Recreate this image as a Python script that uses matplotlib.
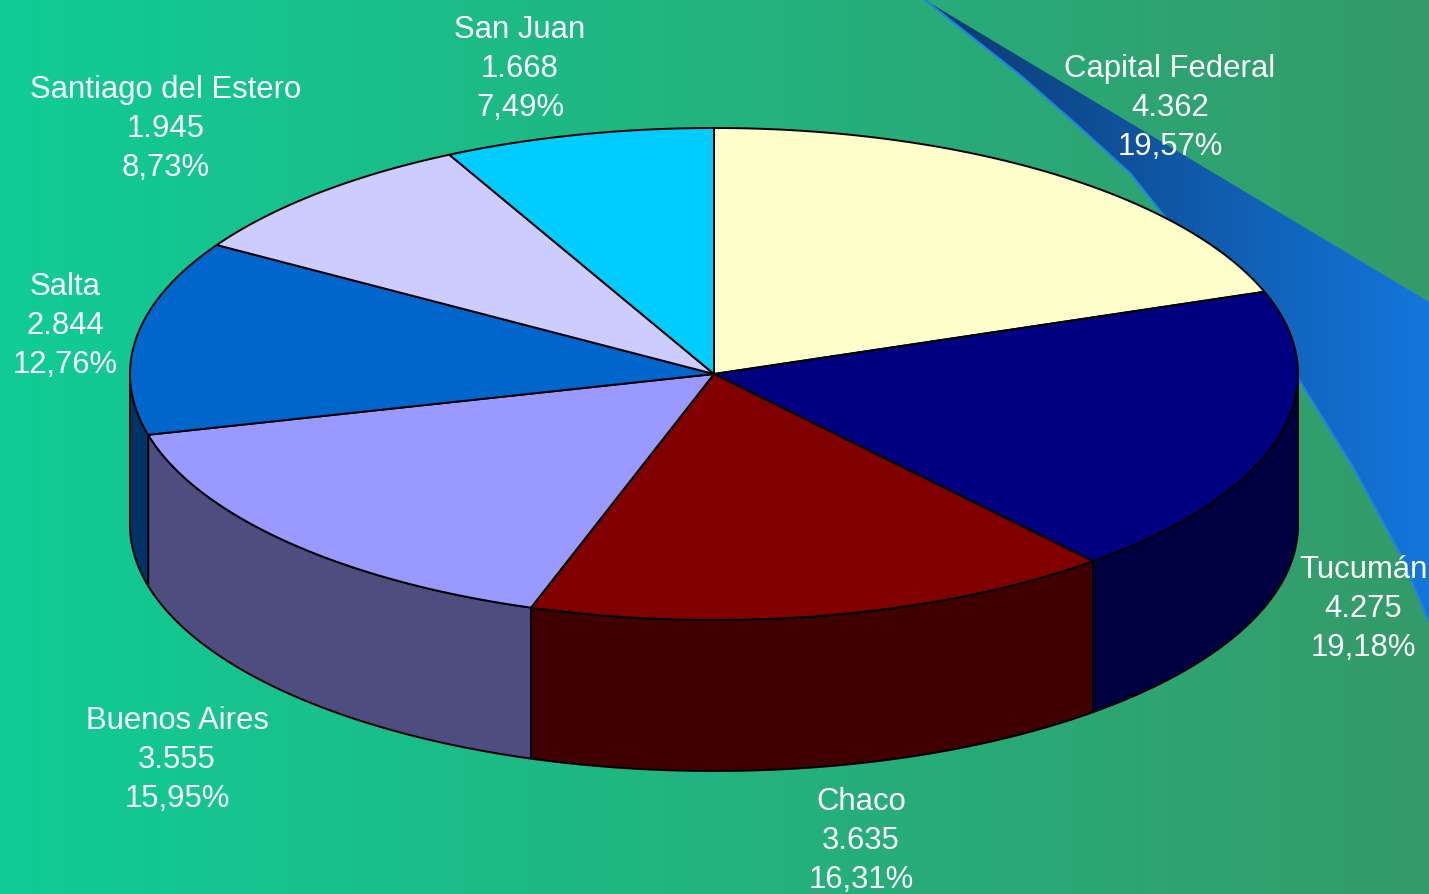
#!/usr/bin/env python

import numpy as np
import matplotlib as mpl
mpl.use('Agg')
import matplotlib.pyplot as plt
from matplotlib.patches import Polygon, PathPatch
from matplotlib.path import Path

names = ['Capital Federal', 'Tucumán', 'Chaco', 'Buenos Aires', 'Salta',
         'Santiago del Estero', 'San Juan']
values = [4362, 4275, 3635, 3555, 2844, 1945, 1668]
value_labels = ['4.362', '4.275', '3.635', '3.555', '2.844', '1.945', '1.668']
pct_labels = ['19,57%', '19,18%', '16,31%', '15,95%', '12,76%', '8,73%', '7,49%']
top_colors = ['#FFFFCC', '#000080', '#800000', '#9999FF', '#0066CC', '#CCCCFF', '#00CCFF']
side_colors = ['#808066', '#000040', '#400000', '#4D4D80', '#003366', '#666680', '#006680']
label_pos = [(1170, 108), (1363, 609), (861, 841), (177, 760), (65, 326), (166, 129), (520, 69)]

# pie geometry in pixels
cx, cy = 714, 374
rx, ry = 584, 246
depth = 151

# swoosh outline, pixels
swoosh_top = [(925, 0), (1429, 302)]
swoosh_low = [(1429, 622), (1400, 553), (1353, 467), (1298, 378), (1173, 227),
              (1130, 173), (1075, 123), (1020, 75), (925, 0)]

plt.rcParams['font.family'] = ['Liberation Sans', 'DejaVu Sans']

fig = plt.figure(figsize=(14.29, 8.94), dpi=100)
ax = fig.add_axes([0, 0, 1, 1])
ax.set_xlim(0, 1429)
ax.set_ylim(894, 0)
ax.axis('off')


def hgrad(c0, c1, extent):
    # horizontal gradient image between two rgb colours
    t = np.linspace(0, 1, 256)[:, None]
    row = (1 - t) * np.array(c0) + t * np.array(c1)
    return ax.imshow(row[None, :, :] / 255.0, extent=extent, aspect='auto',
                     interpolation='bilinear', zorder=1)


def rim(a0, a1, dy=0):
    # points on the ellipse, angles clockwise from the top
    t = np.radians(np.linspace(a0, a1, 200))
    return np.column_stack([cx + rx * np.sin(t), cy - ry * np.cos(t) + dy])


hgrad((16, 204, 150), (52, 155, 105), (0, 1429, 894, 0))

# blue swoosh behind the pie
swoosh = hgrad((12, 58, 112), (20, 118, 220), (925, 1429, 894, 0))
swoosh.set_zorder(2)
swoosh.set_clip_path(Polygon(swoosh_top + swoosh_low, closed=True, transform=ax.transData))
ax.add_patch(PathPatch(Path(swoosh_low), fill=False, edgecolor='#1E82EB', linewidth=1.5, zorder=3))

angles = np.concatenate([[0], np.cumsum(values) / float(sum(values)) * 360])

# side walls, only the front half shows
for i in range(len(values)):
    a0 = max(angles[i], 90)
    a1 = min(angles[i + 1], 270)
    if a1 <= a0:
        continue
    pts = np.vstack([rim(a0, a1), rim(a0, a1, depth)[::-1]])
    ax.add_patch(Polygon(pts, closed=True, facecolor=side_colors[i], edgecolor='black',
                         linewidth=1.4, joinstyle='round', zorder=4))

# top face
for i in range(len(values)):
    pts = np.vstack([[(cx, cy)], rim(angles[i], angles[i + 1])])
    ax.add_patch(Polygon(pts, closed=True, facecolor=top_colors[i], edgecolor='black',
                         linewidth=1.4, joinstyle='round', zorder=5))

for i in range(len(values)):
    ax.text(label_pos[i][0], label_pos[i][1],
            names[i] + '\n' + value_labels[i] + '\n' + pct_labels[i],
            color='white', fontsize=22.3, ha='center', va='center', multialignment='center',
            linespacing=1.38, zorder=6)

plt.savefig('out.png', dpi=100)
